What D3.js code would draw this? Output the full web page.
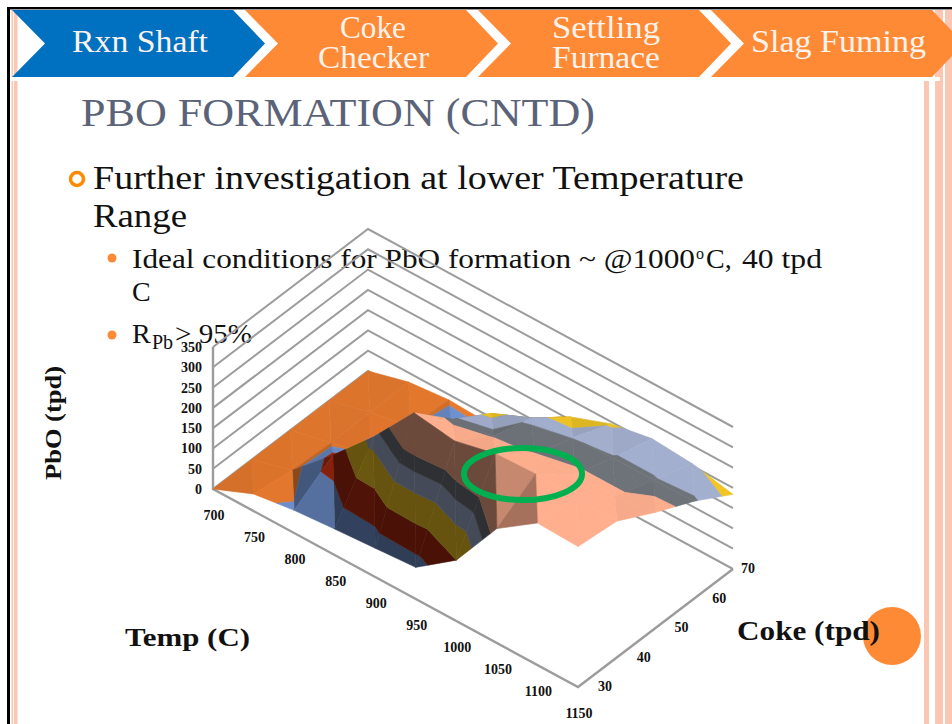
<!DOCTYPE html>
<html><head><meta charset="utf-8">
<style>html,body{margin:0;padding:0;background:#fff}svg{display:block}</style>
<script src="https://cdn.jsdelivr.net/npm/d3@7"></script></head>
<body><svg id="c" width="952" height="724"></svg>
<script>
// ---- data ----
const temps = [700,750,800,850,900,950,1000,1050,1100,1150];
const cokes = [30,40,50,60,70];
const pboAtCoke30 = [0,42,56,64,71,78,150,282,350,346];
const pboAtCoke40 = [0,28,119,218,332,317,340,344,340,336];
const pboAtCoke50 = [0,22,48,90,243,256,264,270,270,285];
const pboAtCoke60 = [0,25,45,98,185,228,234,238,238,240];
const pboAtCoke70 = [0,27,37,32,100,158,195,213,205,184];
const pboTicks = [0,50,100,150,200,250,300,350];
const bandLimits = [50,100,150,200,235,262];
const bandColors = ["#E87A2E","#6F91D0","#B02A10","#F0C524","#A3AFCE","#6E737A","#FFAF8E"];
const surface = [pboAtCoke30,pboAtCoke40,pboAtCoke50,pboAtCoke60,pboAtCoke70];

// ---- projection built from scales ----
const tempX = d3.scaleLinear().domain([700,1150]).range([0,365]);
const tempY = d3.scaleLinear().domain([700,1150]).range([0,198]);
const cokeX = d3.scaleLinear().domain([30,70]).range([0,155]);
const cokeY = d3.scaleLinear().domain([30,70]).range([0,-118]);
const pboY  = d3.scaleLinear().domain([0,350]).range([489,347]);
const px = (t,c)=>213+tempX(t)+cokeX(c);
const py = (t,c,z)=>pboY(z)+tempY(t)+cokeY(c);
const band = d3.scaleThreshold().domain(bandLimits).range(bandColors);
const line = d3.line().x(d=>px(d[0],d[1])).y(d=>py(d[0],d[1],d[2])).curve(d3.curveLinearClosed);

const svg = d3.select("#c");
const serif = "'Liberation Serif','DejaVu Serif',serif";
function txt(g,s,x,y,size,fill,len,opt={}){
  const t=g.append("text").attr("x",x).attr("y",y).attr("font-family",serif)
    .attr("font-size",size).attr("fill",fill).attr("text-anchor",opt.anchor||"start")
    .attr("font-weight",opt.weight||"normal").text(s);
  if(len) t.attr("textLength",len).attr("lengthAdjust","spacingAndGlyphs");
  return t;
}
function twoLine(g,a,ax,al,b,bx,bl,y1,y2,size,fill){
  const t=g.append("text").attr("font-family",serif).attr("font-size",size).attr("fill",fill);
  t.append("tspan").attr("x",ax).attr("y",y1).attr("textLength",al).attr("lengthAdjust","spacingAndGlyphs").text(a);
  t.append("tspan").attr("x",bx).attr("y",y2).attr("textLength",bl).attr("lengthAdjust","spacingAndGlyphs").text(b);
}

// ---- slide frame ----
const frame = svg.append("g");
const stripe = "#FBC6B2";
[[11.5,1.6],[14,3.5],[924,5],[935,8],[945,7]].forEach(s=>{
  frame.append("rect").attr("x",s[0]).attr("y",10).attr("width",s[1]).attr("height",714).attr("fill",stripe);
});
frame.append("rect").attr("x",7).attr("y",7).attr("width",945).attr("height",2.4).attr("fill","#000");
frame.append("rect").attr("x",7).attr("y",7).attr("width",3).attr("height",717).attr("fill","#000");
frame.append("rect").attr("x",10).attr("y",77).attr("width",930).attr("height",4).attr("fill","#fff");

// ---- chevrons ----
const chevronColor = ["#0070C0","#FF8A36","#FF8A36","#FF8A36"];
chevronColor.forEach((col,k)=>{
  const x0 = 12+233*k, w=221, tip=32, top=10, bot=77, mid=43.5;
  const notch = x0+33;
  const pts = [[x0,top],[x0+w,top],[x0+w+tip,mid],[x0+w,bot],[x0,bot],[notch,mid]];
  svg.append("polygon").attr("points",pts.map(p=>p.join(",")).join(" ")).attr("fill",col);
});
const tabFill="#FBF3EC";
txt(svg,"Rxn Shaft",72,52,32,tabFill,136);
twoLine(svg,"Coke",340,66,"Checker",318,111,38,68,31,tabFill);
twoLine(svg,"Settling",552,108,"Furnace",552,108,38,68,31,tabFill);
txt(svg,"Slag Fuming",751,52,32,tabFill,175);

// ---- slide text ----
txt(svg,"PBO FORMATION (CNTD)",81,126,41,"#5A6378",514);
svg.append("circle").attr("cx",77).attr("cy",179).attr("r",6.5).attr("fill","#fff").attr("stroke","#FF8A00").attr("stroke-width",3.5);
txt(svg,"Further investigation at lower Temperature",93,189,34,"#111",651);
txt(svg,"Range",93,227,34,"#111",94);
svg.append("circle").attr("cx",112).attr("cy",258).attr("r",4.5).attr("fill","#FF8A36");
svg.append("circle").attr("cx",112).attr("cy",335).attr("r",4.5).attr("fill","#FF8A36");
txt(svg,"Ideal conditions for PbO formation ~ @1000",132,268,28,"#111",563);
txt(svg,"o",696,259,16,"#111");
txt(svg,"C,",706,268,28,"#111");
txt(svg,"40 tpd",742,268,28,"#111",80);
txt(svg,"C",132,301,28,"#111");
const rpb=svg.append("text").attr("font-family",serif).attr("font-size",28).attr("fill","#111");
rpb.append("tspan").attr("x",132).attr("y",343).text("R");
rpb.append("tspan").attr("x",152).attr("y",349).attr("font-size",20).text("Pb");
rpb.append("tspan").attr("x",175).attr("y",343).attr("textLength",77).attr("lengthAdjust","spacingAndGlyphs").text("> 95%");

// ---- walls and floor ----
const chart = svg.append("g");
const grey = "#9C9C9C";
const path2 = d3.line().x(d=>px(d[0],d[1])).y(d=>py(d[0],d[1],d[2]));
pboTicks.forEach(z=>{
  chart.append("path").attr("fill","none").attr("stroke",grey).attr("stroke-width",2)
    .attr("d",path2([[700,30,z],[700,70,z],[1150,70,z]]));
});
chart.append("path").attr("fill","none").attr("stroke",grey).attr("stroke-width",2.4)
  .attr("d",path2([[700,30,350],[700,30,0],[1150,30,0],[1150,70,0]]));

// ---- surface: triangles cut into value bands ----
function clip(poly,lo,hi){
  const cut=(P,inside,level)=>{
    const out=[];
    P.forEach((a,n)=>{
      const b=P[(n+1)%P.length], ia=inside(a[2]), ib=inside(b[2]);
      if(ia) out.push(a);
      if(ia!==ib){const f=(level-a[2])/(b[2]-a[2]);out.push([a[0]+f*(b[0]-a[0]),a[1]+f*(b[1]-a[1]),level]);}
    });
    return out;
  };
  let P=cut(poly,z=>z>=lo,lo);
  if(P.length) P=cut(P,z=>z<=hi,hi);
  return P;
}
const tris=[];
cokes.slice(0,-1).forEach((c,j)=>temps.slice(0,-1).forEach((t,i)=>{
  const t2=temps[i+1],c2=cokes[j+1];
  const a=[t,c,surface[j][i]],b=[t2,c,surface[j][i+1]],d=[t,c2,surface[j+1][i]],e=[t2,c2,surface[j+1][i+1]];
  tris.push({pts:[a,b,d],si:b[2]-a[2],sj:d[2]-a[2],key:(i+1/3)*22-(j+1/3)*29.5});
  tris.push({pts:[b,e,d],si:e[2]-d[2],sj:e[2]-b[2],key:(i+2/3)*22-(j+2/3)*29.5});
}));
tris.sort((p,q)=>p.key-q.key);
const limits=[0,...bandLimits,400];
const facets=[];
tris.forEach(tr=>{
  const shade=Math.max(.42,Math.min(1,1-.0035*Math.max(tr.sj,0)-.002*Math.max(tr.si,0)));
  limits.slice(0,-1).forEach((lo,b)=>{
    const P=clip(tr.pts,lo,limits[b+1]);
    if(P.length>2){
      const c=d3.rgb(band(lo+1));
      facets.push({P,fill:d3.rgb(c.r*shade,c.g*shade,c.b*shade).formatHex()});
    }
  });
});
chart.append("g").selectAll("path").data(facets).join("path")
  .attr("d",d=>line(d.P)).attr("fill",d=>d.fill).attr("stroke",d=>d.fill).attr("stroke-width",.6);

// ---- axis labels ----
const yAxis = d3.axisLeft(pboY).tickValues(pboTicks).tickSize(0).tickPadding(11);
const yg = chart.append("g").attr("transform","translate(213,0)").call(yAxis);
yg.select(".domain").remove();
yg.selectAll("text").attr("font-family",serif).attr("font-size",14).attr("font-weight","bold").attr("fill","#111");
const lab = chart.append("g").attr("font-family",serif).attr("font-size",14).attr("font-weight","bold").attr("fill","#111").attr("text-anchor","middle");
lab.selectAll("text.t").data(temps).join("text").attr("class","t")
  .attr("x",t=>px(t,30)+1).attr("y",t=>py(t,30,0)+31).text(t=>t);
const cokeDx=[27,27,26,25,15];
lab.selectAll("text.c").data(cokes).join("text").attr("class","c")
  .attr("x",(c,n)=>px(1150,c)+cokeDx[n]).attr("y",c=>py(1150,c,0)+4).text(c=>c);

// ---- annotations ----
svg.append("ellipse").attr("cx",523).attr("cy",474).attr("rx",59).attr("ry",26).attr("fill","none").attr("stroke","#00B050").attr("stroke-width",6);
svg.append("circle").attr("cx",892).attr("cy",636).attr("r",29).attr("fill","#FF8A36");
txt(svg,"Temp (C)",125,646,25,"#111",125,{weight:"bold"});
txt(svg,"Coke (tpd)",737,640,27,"#111",143,{weight:"bold"});
svg.append("text").attr("transform","translate(61,423) rotate(-90)").attr("text-anchor","middle")
  .attr("font-family",serif).attr("font-size",24).attr("font-weight","bold").attr("fill","#111")
  .attr("textLength",114).attr("lengthAdjust","spacingAndGlyphs").text("PbO (tpd)");
</script></body></html>
